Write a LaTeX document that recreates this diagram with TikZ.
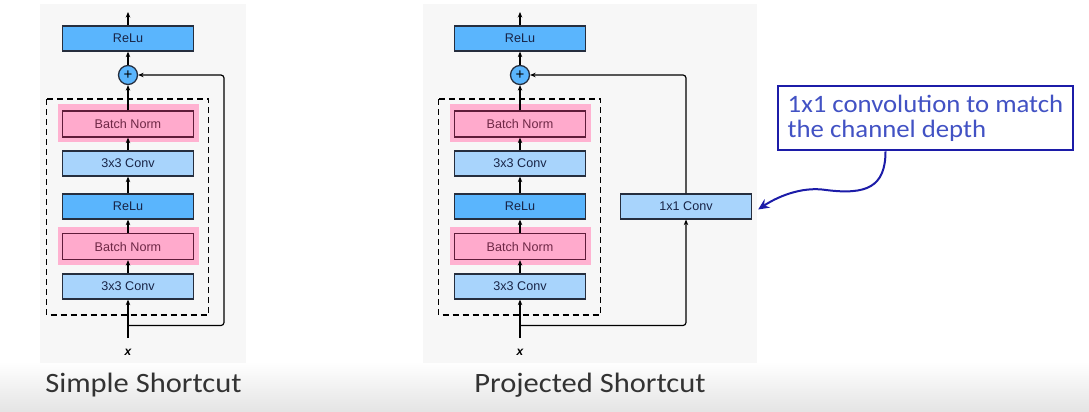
\documentclass[tikz,border=0pt]{standalone}
\usepackage{fontspec}
\setmainfont{Liberation Sans}
\newfontfamily\capfont[FakeStretch=1.09]{Carlito}
\newfontfamily\notefont[FakeStretch=1.07]{Carlito}
\usetikzlibrary{arrows.meta}

\definecolor{reluc}{RGB}{90,181,253}
\definecolor{convc}{RGB}{168,212,252}
\definecolor{pinkbg}{RGB}{255,178,209}
\definecolor{pinkbox}{RGB}{255,170,204}
\definecolor{bnedge}{RGB}{96,28,58}
\definecolor{bntext}{RGB}{110,40,70}
\definecolor{boxedge}{RGB}{38,46,62}
\definecolor{boxtext}{RGB}{24,36,70}
\definecolor{panelc}{RGB}{247,247,247}
\definecolor{noteedge}{RGB}{28,28,168}
\definecolor{notetext}{RGB}{66,82,196}
\definecolor{floorc}{RGB}{228,228,228}

\tikzset{
  layer/.style={draw=boxedge, line width=1.3pt, minimum width=131pt,
    minimum height=25pt, inner sep=0pt, font=\fontsize{12.6}{14}\selectfont,
    text=boxtext},
  relubox/.style={layer, fill=reluc},
  convbox/.style={layer, fill=convc},
  bnbox/.style={layer, fill=pinkbox, draw=bnedge, text=bntext, minimum height=26pt},
  bnglow/.style={fill=pinkbg, minimum width=141pt, minimum height=38pt, inner sep=0pt},
  addnode/.style={circle, draw=boxedge, fill=reluc, line width=1.3pt,
    minimum size=19pt, inner sep=0pt, font=\fontsize{15}{15}\selectfont},
  flow/.style={line width=1.2pt, -{Stealth[length=5.5pt,width=4.5pt]}},
  shortcut/.style={flow, rounded corners=3pt},
  blockframe/.style={draw, line width=1.2pt, dash pattern=on 6pt off 4pt},
  caption/.style={font=\capfont\fontsize{28}{30}\selectfont, text=black!80, anchor=base},
  resblock/.pic={
    \node[bnglow] (-bn1bg) at (0,123) {};
    \node[bnglow] (-bn2bg) at (0,245.5) {};
    \node[relubox] (-relu) at (0,38.5) {ReLu};
    \node[addnode] (-plus) at (0,75) {+};
    \node[bnbox] (-bn1) at (0,124) {Batch Norm};
    \node[convbox] (-conv1) at (0,163.5) {3x3 Conv};
    \node[relubox] (-relu2) at (0,206.5) {ReLu};
    \node[bnbox] (-bn2) at (0,246.5) {Batch Norm};
    \node[convbox] (-conv2) at (0,286.5) {3x3 Conv};
    \draw[blockframe] (-81.5,99) rectangle (80.5,315);
    \coordinate (-in) at (0,338);
    \coordinate (-split) at (0,325.5);
    \coordinate (-out) at (0,12);
    \node[font=\fontsize{12}{12}\selectfont\bfseries\itshape] (-x) at (0,352) {x};
    \draw[flow] (-in) -- (-conv2);
    \draw[flow] (-conv2) -- (-bn2);
    \draw[flow] (-bn2) -- (-relu2);
    \draw[flow] (-relu2) -- (-conv1);
    \draw[flow] (-conv1) -- (-bn1);
    \draw[flow] (-bn1) -- (-plus);
    \draw[flow] (-plus) -- (-relu);
    \draw[flow] (-relu) -- (-out);
  }
}

\begin{document}
\begin{tikzpicture}[x=1pt, y=-1pt]
  \useasboundingbox (0,0) rectangle (1089,412);
  \fill[white] (0,0) rectangle (1089,412);
  \shade[top color=white, bottom color=floorc] (0,362) rectangle (1089,412);

  % the two diagram panels
  \fill[panelc] (40,4) rectangle (246,363);
  \fill[panelc] (423,4) rectangle (757,363);

  % simple shortcut: identity path around the block
  \pic (L) at (128,0) {resblock};
  \draw[shortcut] (L-split) -- (224,325.5) |- (L-plus.east);

  % projected shortcut: 1x1 convolution on the skip path
  \pic (R) at (520,0) {resblock};
  \node[convbox] (Rc11) at (686,206.5) {1x1 Conv};
  \draw[shortcut] (R-split) -| (Rc11.south);
  \draw[shortcut] (Rc11.north) |- (R-plus.east);

  % annotation
  \node[draw=noteedge, line width=2.2pt, minimum width=295pt, minimum height=64pt,
        align=left, inner sep=0pt, text=notetext,
        font=\notefont\fontsize{25}{25}\selectfont] (note) at (925.5,118.3)
        {1x1 convolution to match\\the channel depth};
  \draw[noteedge, line width=2pt, -{Stealth[length=11pt,width=10pt]}]
    ([xshift=-40pt]note.south) .. controls +(0,36) and +(40,5) .. (826,190)
    .. controls +(-25,-4) and +(18,-12) .. ([xshift=6pt,yshift=-3pt]Rc11.east);

  % captions
  \node[caption] (capL) at (143.5,392) {Simple Shortcut};
  \node[caption] (capR) at (590,392) {Projected Shortcut};
\end{tikzpicture}
\end{document}
